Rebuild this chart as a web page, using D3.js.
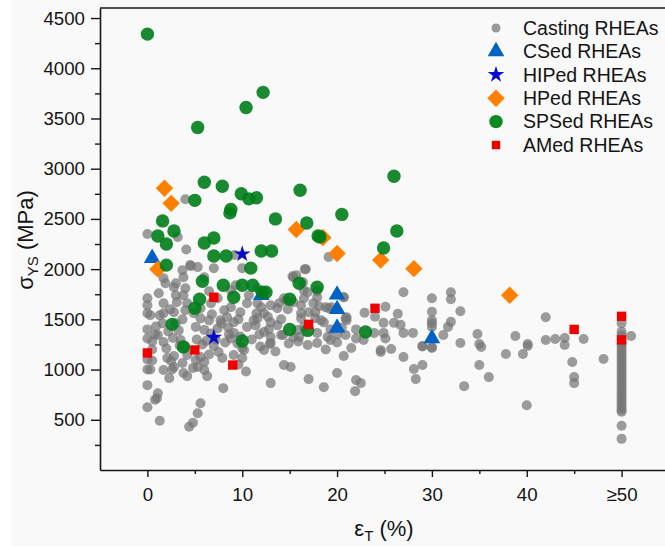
<!DOCTYPE html>
<html><head><meta charset="utf-8">
<script src="https://cdn.jsdelivr.net/npm/d3@7"></script>
<style>
html,body{margin:0;padding:0;background:#ffffff;}
svg{display:block;font-family:"Liberation Sans",Arial,sans-serif;}
</style></head>
<body><svg id="c" width="665" height="547"></svg>
<script>
// ---- data: [elongation %, yield strength MPa]; 50 = "≥50" column ----
const castingE = [4.0,0,3.2,4.1,7.0,4.6,9.2,10.0,16.6,15.3,19.1,4.5,5.3,3.7,
0,0,0,0.3,0,0,0.5,0,0.5,0,0.3,0,0,1.1,1.0,0.8,1.3,0.8,0.5,1.3,
1.7,1.9,2.8,3.0,1.7,1.7,1.6,1.1,1.7,2.1,2.5,2.8,2.3,1.7,2.8,3.1,3.0,3.8,4.0,3.8,4.2,4.0,3.7,3.0,2.7,3.5,4.0,3.7,2.8,3.8,4.2,4.8,5.3,5.1,4.2,2.2,3.3,2.0,
6.0,6.0,6.3,5.6,5.6,5.3,4.8,4.4,8.0,7.5,7.0,6.2,6.7,7.4,7.7,8.4,9.1,9.8,8.8,8.1,7.4,6.7,6.5,5.6,4.9,5.6,5.1,6.0,8.8,9.5,10.2,10.0,10.0,9.1,7.9,9.1,10.5,11.2,10.5,11.6,10.7,11.6,9.3,8.8,6.0,6.5,8.5,9.6,8.2,7.2,5.8,6.5,9.6,10.4,
12.3,13.0,14.4,15.1,17.0,18.6,12.3,13.0,13.0,14.3,13.7,12.7,13.7,14.6,15.4,16.4,16.5,17.5,16.2,17.7,18.3,16.0,16.9,17.9,19.0,19.1,12.9,11.0,11.8,11.5,12.0,14.9,15.7,16.7,17.9,16.9,16.5,17.9,18.1,18.8,19.4,20.7,20.9,17.7,17.0,16.2,15.4,14.4,13.9,13.0,12.3,11.6,13.0,14.1,16.2,18.6,17.9,19.3,16.5,15.8,15.4,15.9,14.1,19.3,18.8,20.0,
20.0,22.0,22.5,21.9,20.7,21.5,22.0,20.9,20.0,21.0,21.0,20.7,22.9,24.0,25.1,26.4,26.0,26.7,24.9,24.9,25.1,23.9,24.6,24.6,25.7,27.0,27.0,28.0,28.1,28.3,29.0,29.0,27.0,22.8,20.5,22.0,30.0,29.0,
30.0,30.0,30.0,30.0,30.0,30.0,31.2,31.7,32.0,32.0,32.0,33.0,33.0,33.4,34.8,35.0,35.2,35.0,36.0,37.8,38.8,39.6,40.1,40.1,40.0,42.0,42.0,43.0,44.0,44.0,46.0,44.8,45,45,48.1,51,
50,50,50,50,50,50,50,50,50,50,50,50,50,50,50,50,50,50,50,50,50,50,50,50,50,50,50,50,50,50,
1.2,2.4,0.9,3.4,6.8,7.8,8.6,11.4,12.8,14.8,2.6,5.2,9.8,11.9,13.5];
const castingV = [2695,2350,2320,2195,2010,2030,2140,2010,2000,1930,2120,2040,2020,1990,
1710,1640,1560,1540,1400,1310,1280,1100,1090,1000,1000,845,625,765,715,700,490,1350,1200,1540,
1910,1860,1820,1860,1660,1560,1460,1345,1275,1115,1085,1025,915,995,1570,1670,1740,1920,1810,1740,1660,1590,1500,1460,1315,1295,1225,1065,1135,965,935,1015,1025,1095,1145,1380,1390,1210,
1075,995,935,1125,665,565,470,430,815,1175,1235,1285,1360,1410,1490,1520,1470,1570,1620,1590,1710,1660,1490,1510,1560,1610,1425,1395,1310,1260,1195,1115,1215,1145,1115,1365,1425,1490,1660,1660,1740,1810,1840,1790,1920,1780,1420,1500,1270,1300,1250,1150,1050,980,
1195,865,1045,1025,905,825,1375,1325,1265,1345,1440,1525,1610,1690,1920,1870,1790,1660,1560,1570,1490,1325,1245,1265,1325,1610,1255,1300,1350,1560,1620,1260,1940,2000,1780,1770,1710,1720,1630,1620,1620,1720,1510,1510,1570,1640,1670,1710,1660,1640,1560,1510,1470,1500,1510,1470,1365,1295,1425,1395,1320,1280,1345,1400,1200,1270,
965,895,865,785,1135,1215,1310,1345,1350,1520,1490,1720,1565,1525,1625,1555,1465,1445,1465,1365,1310,1365,1195,1175,1205,1365,1770,1365,1005,905,1045,1235,1125,1295,1420,1400,1225,1230,
1710,1575,1490,1460,1425,1215,1345,1425,1475,1770,1700,1580,1265,835,1355,1255,1225,1045,925,1155,1335,1155,1255,1235,645,1520,1295,1305,1315,1245,1305,1075,925,865,1105,1335,
1460,1375,1340,1300,1260,1230,1200,1170,1140,1110,1080,1050,1020,990,960,930,900,870,840,810,780,750,720,690,660,630,600,580,440,310,
1760,1600,1430,1240,1550,1460,1350,1440,1400,1600,1000,1300,1330,1230,1180];

const csedE = [0.5,12.0,20.0,20.0,20.0,30.0];
const csedV = [2110,1740,1745,1600,1415,1310];

const hipedE = [10.0,7.0];
const hipedV = [2150,1320];

const hpedE = [1.8,2.5,1.1,15.7,18.5,20.0,24.6,28.1,38.2];
const hpedV = [2805,2655,2000,2395,2315,2155,2090,2005,1740];

const spsedE = [0,5.3,10.4,12.2,6.0,7.9,9.9,10.7,11.5,5.0,8.8,8.7,13.5,1.6,2.8,1.1,2.0,6.0,7.0,7.0,8.3,2.0,10.9,12.0,13.1,16.1,16.8,18.0,18.2,26.0,20.5,26.3,24.9,23.0,5.8,8.0,9.1,10.0,11.1,12.1,12.5,5.5,5.0,2.6,3.8,10.0,16.0,17.9,15.0,15.0,16.9];
const spsedV = [4340,3410,3610,3760,2865,2825,2750,2700,2710,2685,2595,2560,2500,2480,2380,2330,2250,2260,2310,2130,2130,2040,2010,2180,2180,2785,2460,2330,2320,2925,2545,2380,2210,1375,1880,1840,1720,1840,1840,1770,1770,1700,1610,1450,1225,1285,1860,1820,1700,1400,1390];

const amedE = [7,0,5,9,17,24,45,50,50];
const amedV = [1720,1165,1195,1045,1450,1610,1400,1530,1295];

const xTickValues = [0,10,20,30,40,50];
const xTickLabels = ["0","10","20","30","40","\u226550"];
const xMinorTicks = [5,15,25,35,45];
const yTickValues = [500,1000,1500,2000,2500,3000,3500,4000,4500];
const yMinorTicks = [250,750,1250,1750,2250,2750,3250,3750,4250];
const legendLabels = ["Casting RHEAs","CSed RHEAs","HIPed RHEAs","HPed RHEAs","SPSed RHEAs","AMed RHEAs"];

// ---- drawing ----
const svg = d3.select("#c");
svg.append("rect").attr("x",11).attr("y",0).attr("width",654).attr("height",546).attr("fill","#f9f9f9");

const L = 100, R = 669, T = 8, B = 470;
const x = d3.scaleLinear().domain([-5,55]).range([L,R]);
const y = d3.scaleLinear().domain([0,4600]).range([B,T]);

const FS = "18.7px";
const TFS = "22px";
const ink = "#141414";

// top frame line
svg.append("line").attr("x1",L).attr("x2",R).attr("y1",T).attr("y2",T)
  .attr("stroke",ink).attr("stroke-width",1.6);

// y axis
const gy = svg.append("g").attr("transform",`translate(${L},0)`)
  .call(d3.axisLeft(y).tickValues(yTickValues).tickSize(9).tickPadding(6).tickSizeOuter(0)
    .tickFormat(d3.format("d")));
const gym = svg.append("g").attr("transform",`translate(${L},0)`)
  .call(d3.axisLeft(y).tickValues(yMinorTicks).tickSize(5).tickFormat("").tickSizeOuter(0));
// x axis
const gx = svg.append("g").attr("transform",`translate(0,${B})`)
  .call(d3.axisBottom(x).tickValues(xTickValues).tickSize(7).tickPadding(11).tickSizeOuter(0)
    .tickFormat((d,i)=>xTickLabels[i]));
const gxm = svg.append("g").attr("transform",`translate(0,${B})`)
  .call(d3.axisBottom(x).tickValues(xMinorTicks).tickSize(4).tickFormat("").tickSizeOuter(0));
[gy,gym,gx,gxm].forEach(g=>{
  g.select(".domain").attr("stroke",ink).attr("stroke-width",1.6);
  g.selectAll(".tick line").attr("stroke",ink).attr("stroke-width",1.4);
  g.selectAll("text").attr("font-size",FS).attr("fill",ink)
    .attr("font-family","'Liberation Sans',Arial,sans-serif");
});
gym.select(".domain").remove();
gxm.select(".domain").remove();

// axis titles
const yt = svg.append("text").attr("transform","translate(33,240) rotate(-90)")
  .attr("text-anchor","middle").attr("font-size",TFS).attr("fill",ink);
yt.append("tspan").text("\u03c3");
yt.append("tspan").attr("font-size","15px").attr("dy","5").text("YS");
yt.append("tspan").attr("dy","-5").text(" (MPa)");

const xt = svg.append("text").attr("x",384).attr("y",536)
  .attr("text-anchor","middle").attr("font-size",TFS).attr("fill",ink);
xt.append("tspan").text("\u03b5");
xt.append("tspan").attr("font-size","15px").attr("dy","5").text("T");
xt.append("tspan").attr("dy","-5").text(" (%)");

// marker makers
const diamond = s => `M0,${-s}L${s},0L0,${s}L${-s},0Z`;
const tri = d3.symbol().type(d3.symbolTriangle).size(120)();
const star = d3.symbol().type(d3.symbolStar).size(85)();

const plot = svg.append("g");
function pts(E,V){ return E.map((e,i)=>[e,V[i]]); }

plot.append("g").selectAll("circle").data(pts(castingE,castingV)).join("circle")
  .attr("cx",d=>x(d[0])).attr("cy",d=>y(d[1])).attr("r",5)
  .attr("fill","#767676").attr("fill-opacity",0.72);

plot.append("g").selectAll("path").data(pts(csedE,csedV)).join("path")
  .attr("d",tri).attr("transform",d=>`translate(${x(d[0])},${y(d[1])})`)
  .attr("fill","#0062c4");

plot.append("g").selectAll("path").data(pts(hipedE,hipedV)).join("path")
  .attr("d",star).attr("transform",d=>`translate(${x(d[0])},${y(d[1])})`)
  .attr("fill","#0a0acc");

plot.append("g").selectAll("path").data(pts(hpedE,hpedV)).join("path")
  .attr("d",diamond(8.7)).attr("transform",d=>`translate(${x(d[0])},${y(d[1])})`)
  .attr("fill","#ff8000");

plot.append("g").selectAll("circle").data(pts(spsedE,spsedV)).join("circle")
  .attr("cx",d=>x(d[0])).attr("cy",d=>y(d[1])).attr("r",6.7)
  .attr("fill","#007d18").attr("fill-opacity",0.9);

plot.append("g").selectAll("rect").data(pts(amedE,amedV)).join("rect")
  .attr("x",d=>x(d[0])-4.7).attr("y",d=>y(d[1])-4.7).attr("width",9.4).attr("height",9.4)
  .attr("fill","#f20000");

// legend
const lg = svg.append("g").attr("transform","translate(496,28)");
const rowH = 23.4;
legendLabels.forEach((lab,i)=>{
  const g = lg.append("g").attr("transform",`translate(0,${i*rowH})`);
  if(i===0) g.append("circle").attr("r",4.5).attr("fill","#999999");
  if(i===1) g.append("path").attr("d",tri).attr("fill","#0062c4");
  if(i===2) g.append("path").attr("d",star).attr("fill","#0a0acc");
  if(i===3) g.append("path").attr("d",diamond(8.7)).attr("fill","#ff8000");
  if(i===4) g.append("circle").attr("r",6.7).attr("fill","#0a8a22");
  if(i===5) g.append("rect").attr("x",-4.2).attr("y",-4.2).attr("width",8.4).attr("height",8.4).attr("fill","#f20000");
  g.append("text").attr("x",27).attr("y",6.8).attr("font-size","19.5px").attr("fill",ink).text(lab);
});
</script></body></html>
